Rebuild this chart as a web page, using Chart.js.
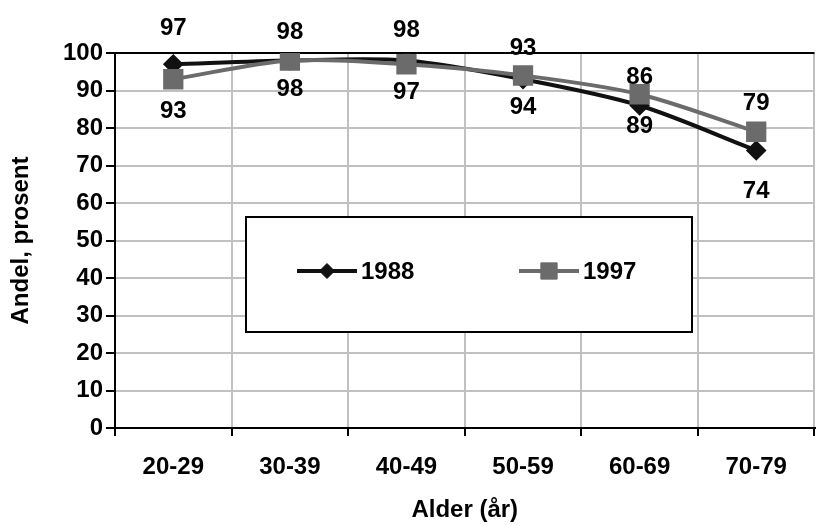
<!DOCTYPE html>
<html>
<head>
<meta charset="utf-8">
<script src="https://cdn.jsdelivr.net/npm/chart.js@4.4.0/dist/chart.umd.min.js"></script>
<style>
  html, body { margin: 0; padding: 0; background: #fff; overflow: hidden; }
</style>
</head>
<body>
<canvas id="myChart" width="830" height="525"></canvas>
<script>
// data
var categories = ['20-29', '30-39', '40-49', '50-59', '60-69', '70-79'];
var values1988 = [97, 98, 98, 93, 86, 74];
var values1997 = [93, 98, 97, 94, 89, 79];
var labelShift1988 = [-37, -29, -31, -32, -29, 40];
var labelShift1997 = [31, 28, 27, 31, 31, -29];

var FONT = '"Liberation Sans", Arial, sans-serif';
var FSIZE = 24;

// value labels above / below the points
var valueLabels = {
    id: 'valueLabels',
    afterDatasetsDraw: function (chart) {
        var c = chart.ctx;
        c.save();
        c.font = 'bold ' + FSIZE + 'px ' + FONT;
        c.fillStyle = '#000';
        c.textAlign = 'center';
        c.textBaseline = 'middle';
        chart.data.datasets.forEach(function (ds, i) {
            var meta = chart.getDatasetMeta(i);
            meta.data.forEach(function (pt, j) {
                c.fillText(String(ds.data[j]), pt.x, pt.y + ds.labelShift[j] + 1);
            });
        });
        c.restore();
    }
};

// boxed legend inside the plot
var boxLegend = {
    id: 'boxLegend',
    beforeDatasetsDraw: function (chart) {
        var c = chart.ctx;
        var a = chart.chartArea;
        var x0 = a.left + 131, y0 = a.top + 164, w = 446, h = 115;
        c.save();
        c.fillStyle = '#fff';
        c.fillRect(x0, y0, w, h);
        c.strokeStyle = '#000';
        c.lineWidth = 2;
        c.strokeRect(x0, y0, w, h);

        var cy = y0 + 54;
        var items = [
            { x: x0 + 51, ds: chart.data.datasets[0] },
            { x: x0 + 273, ds: chart.data.datasets[1] }
        ];
        items.forEach(function (it) {
            c.strokeStyle = it.ds.borderColor;
            c.lineWidth = 4;
            c.beginPath();
            c.moveTo(it.x, cy);
            c.lineTo(it.x + 60, cy);
            c.stroke();
            c.fillStyle = it.ds.borderColor;
            c.lineWidth = 1;
            Chart.helpers.drawPoint(c, {
                pointStyle: it.ds.pointStyle,
                radius: it.ds.pointRadius,
                borderWidth: 1
            }, it.x + 30, cy);
            c.fillStyle = '#000';
            c.font = 'bold ' + FSIZE + 'px ' + FONT;
            c.textAlign = 'left';
            c.textBaseline = 'middle';
            c.fillText(it.ds.label, it.x + 64, cy + 1);
        });
        c.restore();
    }
};

var ctx = document.getElementById('myChart').getContext('2d');
var myChart = new Chart(ctx, {
    type: 'line',
    data: {
        labels: categories,
        datasets: [
            {
                label: '1988',
                data: values1988,
                labelShift: labelShift1988,
                borderColor: '#111111',
                backgroundColor: '#111111',
                pointBackgroundColor: '#111111',
                pointBorderColor: '#111111',
                pointStyle: 'rectRot',
                pointRadius: 7.5,
                borderWidth: 4,
                tension: 0.3,
                order: 1
            },
            {
                label: '1997',
                data: values1997,
                labelShift: labelShift1997,
                borderColor: '#6b6b6b',
                backgroundColor: '#6b6b6b',
                pointBackgroundColor: '#6b6b6b',
                pointBorderColor: '#6b6b6b',
                pointStyle: 'rect',
                pointRadius: 11.5,
                borderWidth: 4,
                tension: 0.3,
                order: 0
            }
        ]
    },
    options: {
        responsive: false,
        animation: false,
        layout: { padding: { top: 53, right: 7, left: 0, bottom: 0 } },
        plugins: {
            legend: { display: false },
            tooltip: { enabled: false }
        },
        scales: {
            x: {
                offset: true,
                grid: {
                    offset: true,
                    color: '#c0c0c0',
                    lineWidth: 2,
                    tickColor: '#000',
                    tickWidth: 2,
                    tickLength: 8
                },
                border: { color: '#000', width: 2 },
                ticks: {
                    color: '#000',
                    padding: 17,
                    font: { family: FONT, size: FSIZE, weight: 'bold' }
                },
                title: {
                    display: true,
                    text: 'Alder (år)',
                    color: '#000',
                    padding: { top: 0, bottom: 0 },
                    font: { family: FONT, size: FSIZE, weight: 'bold' }
                },
                afterFit: function (scale) { scale.height = 97; }
            },
            y: {
                min: 0,
                max: 100,
                grid: {
                    color: function (c) { return c.tick && c.tick.value === 100 ? '#000' : '#c0c0c0'; },
                    lineWidth: 2,
                    tickColor: '#000',
                    tickWidth: 2,
                    tickLength: 9
                },
                border: { color: '#000', width: 2 },
                ticks: {
                    stepSize: 10,
                    color: '#000',
                    padding: 3,
                    font: { family: FONT, size: FSIZE, weight: 'bold' }
                },
                title: {
                    display: true,
                    text: 'Andel, prosent',
                    color: '#000',
                    padding: { top: 7, bottom: 0 },
                    font: { family: FONT, size: FSIZE, weight: 'bold' }
                },
                afterFit: function (scale) { scale.width = 115; }
            }
        }
    },
    plugins: [valueLabels, boxLegend]
});
</script>
</body>
</html>
